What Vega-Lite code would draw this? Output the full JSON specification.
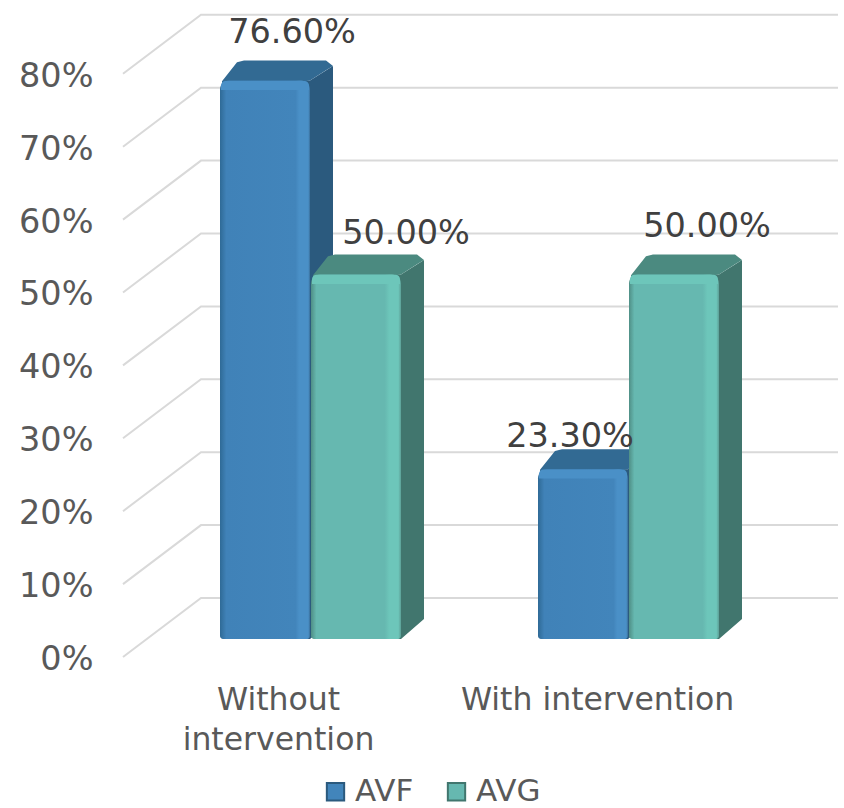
{
"$schema":"https://vega.github.io/schema/vega-lite/v6.json",
"width":717,"height":657,
"autosize":{"type":"none"},
"padding":{"left":123,"top":0,"right":4,"bottom":151},
"background":"white",
"config":{"view":{"stroke":null},"font":"DejaVu Sans"},
"data":{"values":[
{"group":"Without intervention","series":"AVF","value":76.6},
{"group":"Without intervention","series":"AVG","value":50.0},
{"group":"With intervention","series":"AVF","value":23.3},
{"group":"With intervention","series":"AVG","value":50.0}
]},
"transform":[
{"calculate":"(datum.group=='Without intervention'?97:415)+(datum.series=='AVF'?0:91)","as":"left"},
{"calculate":"datum.left+90","as":"right"},
{"calculate":"2.47","as":"base"},
{"calculate":"datum.value+datum.base","as":"top"}
],
"encoding":{
"x":{"field":"px","type":"quantitative","scale":{"domain":[0,717],"nice":false,"zero":false},
"axis":{"values":[155,474],"title":null,"grid":false,"domain":false,"ticks":false,"labelOverlap":false,"labelFlush":false,"labelLimit":500,"labelPadding":27,"labelFontSize":31.5,"labelColor":"#595959","labelFont":"DejaVu Sans","labelLineHeight":40,"labelBaseline":"top","labelExpr":"datum.value<300?['Without','intervention']:'With intervention'"}},
"y":{"field":"py","type":"quantitative","scale":{"domain":[0,90.12],"nice":false,"zero":false},
"axis":{"values":[0,10,20,30,40,50,60,70,80],"title":null,"grid":false,"domain":false,"ticks":false,"labelPadding":30,"labelOffset":2.5,"labelFontSize":33.5,"labelColor":"#595959","labelFont":"DejaVu Sans","labelExpr":"datum.value+'%'"}}
},
"layer":[
{"data":{"values":[{"level":0},{"level":10},{"level":20},{"level":30},{"level":40},{"level":50},{"level":60},{"level":70},{"level":80}]},
 "transform":[{"calculate":"[0,78,715]","as":"px"},{"flatten":["px"]},{"calculate":"datum.level+(datum.px>0?8.09:0)","as":"py"}],
 "mark":{"type":"line","color":"#D9D9D9","strokeWidth":2},
 "encoding":{"detail":{"field":"level"}}},

{"transform":[{"calculate":"datum.left+10","as":"px"},{"calculate":"datum.top-3","as":"py"},{"calculate":"datum.right-10","as":"r"}],
 "mark":{"type":"rect","strokeWidth":0},
 "encoding":{"x2":{"field":"r"},"y2":{"field":"base"},
  "color":{"field":"series","type":"nominal","scale":{"domain":["AVF","AVG"],"range":["#4285BB","#66B8B0"]},
   "legend":{"orient":"none","legendX":197,"legendY":776,"direction":"horizontal","columns":2,"title":null,"symbolType":"square","symbolSize":300,"symbolStrokeWidth":2,"labelFontSize":31,"labelColor":"#595959","labelFont":"DejaVu Sans","columnPadding":27,"labelOffset":4}},
  "stroke":{"field":"series","type":"nominal","scale":{"domain":["AVF","AVG"],"range":["#2B5A7E","#41766E"]},"legend":null}}},

{"transform":[{"filter":"datum.series=='AVF'"},{"calculate":"[0,1,2]","as":"t"},{"flatten":["t"]},{"calculate":"[datum.right-9,datum.right,datum.right+23][datum.t]","as":"px"},{"calculate":"[datum.top,datum.top,datum.top+2.0][datum.t]","as":"py"},{"calculate":"[datum.base,datum.base,datum.base+2.74][datum.t]","as":"py2"}],
 "mark":{"type":"area","color":"#2B5A7E","interpolate":"linear"},
 "encoding":{"y2":{"field":"py2"},"detail":{"field":"group"}}},
{"transform":[{"filter":"datum.series=='AVF'"},{"calculate":"[0,1,2,3,4,5]","as":"t"},{"flatten":["t"]},{"calculate":"[datum.left+2,datum.left+17,datum.left+24,datum.right,datum.right+16,datum.right+23][datum.t]","as":"px"},{"calculate":"[datum.top-0.1,datum.top+2.5,datum.top+2.74,datum.top+2.74,datum.top+2.74,datum.top+2.0][datum.t]","as":"py"},{"calculate":"[datum.top-1.3,datum.top-1.3,datum.top-1.3,datum.top,datum.top+1.4,datum.top+2.0][datum.t]","as":"py2"}],
 "mark":{"type":"area","color":"#326A93","interpolate":"linear"},
 "encoding":{"y2":{"field":"py2"},"detail":{"field":"group"}}},
{"transform":[{"filter":"datum.series=='AVF'"},{"calculate":"datum.left","as":"px"},{"calculate":"datum.top","as":"py"}],
 "mark":{"type":"rect","cornerRadiusTopLeft":9,"cornerRadiusTopRight":9,"cornerRadiusBottomLeft":3,"cornerRadiusBottomRight":3,
  "color":{"gradient":"linear","x1":0,"y1":0,"x2":1,"y2":0,"stops":[{"offset":0,"color":"#2F6A96"},{"offset":0.07,"color":"#4082B8"},{"offset":0.84,"color":"#4285BB"},{"offset":0.88,"color":"#4A90C7"},{"offset":0.98,"color":"#4A90C7"},{"offset":1,"color":"#3A6F9B"}]}},
 "encoding":{"x2":{"field":"right"},"y2":{"field":"base"}}},

{"transform":[{"filter":"datum.series=='AVG'"},{"calculate":"[0,1,2]","as":"t"},{"flatten":["t"]},{"calculate":"[datum.right-9,datum.right,datum.right+23][datum.t]","as":"px"},{"calculate":"[datum.top,datum.top,datum.top+2.0][datum.t]","as":"py"},{"calculate":"[datum.base,datum.base,datum.base+2.74][datum.t]","as":"py2"}],
 "mark":{"type":"area","color":"#41766E","interpolate":"linear"},
 "encoding":{"y2":{"field":"py2"},"detail":{"field":"group"}}},
{"transform":[{"filter":"datum.series=='AVG'"},{"calculate":"[0,1,2,3,4,5]","as":"t"},{"flatten":["t"]},{"calculate":"[datum.left+2,datum.left+17,datum.left+24,datum.right,datum.right+16,datum.right+23][datum.t]","as":"px"},{"calculate":"[datum.top-0.1,datum.top+2.5,datum.top+2.74,datum.top+2.74,datum.top+2.74,datum.top+2.0][datum.t]","as":"py"},{"calculate":"[datum.top-1.3,datum.top-1.3,datum.top-1.3,datum.top,datum.top+1.4,datum.top+2.0][datum.t]","as":"py2"}],
 "mark":{"type":"area","color":"#4B8A80","interpolate":"linear"},
 "encoding":{"y2":{"field":"py2"},"detail":{"field":"group"}}},
{"transform":[{"filter":"datum.series=='AVG'"},{"calculate":"datum.left","as":"px"},{"calculate":"datum.top","as":"py"}],
 "mark":{"type":"rect","cornerRadiusTopLeft":9,"cornerRadiusTopRight":9,"cornerRadiusBottomLeft":3,"cornerRadiusBottomRight":3,
  "color":{"gradient":"linear","x1":0,"y1":0,"x2":1,"y2":0,"stops":[{"offset":0,"color":"#4F8F86"},{"offset":0.06,"color":"#66B8B0"},{"offset":0.82,"color":"#66B8B0"},{"offset":0.87,"color":"#6DC6BA"},{"offset":0.97,"color":"#6DC6BA"},{"offset":1,"color":"#5C9F96"}]}},
 "encoding":{"x2":{"field":"right"},"y2":{"field":"base"}}},

{"transform":[{"filter":"datum.series=='AVF'"},{"calculate":"datum.left+1","as":"px"},{"calculate":"datum.top-0.05","as":"py"},{"calculate":"datum.right-1","as":"r"},{"calculate":"datum.top-1.3","as":"b"}],
 "mark":{"type":"rect","color":"#4A90C7","cornerRadiusTopLeft":8,"cornerRadiusTopRight":8},
 "encoding":{"x2":{"field":"r"},"y2":{"field":"b"}}},
{"transform":[{"filter":"datum.series=='AVG'"},{"calculate":"datum.left+1","as":"px"},{"calculate":"datum.top-0.05","as":"py"},{"calculate":"datum.right-1","as":"r"},{"calculate":"datum.top-1.3","as":"b"}],
 "mark":{"type":"rect","color":"#6DC6BA","cornerRadiusTopLeft":8,"cornerRadiusTopRight":8},
 "encoding":{"x2":{"field":"r"},"y2":{"field":"b"}}},

{"transform":[
 {"calculate":"datum.group+datum.series","as":"key"},
 {"calculate":"{'Without interventionAVF':27,'Without interventionAVG':50,'With interventionAVF':-13,'With interventionAVG':33}[datum.key]","as":"sx"},
 {"calculate":"{'Without interventionAVF':5.2,'Without interventionAVG':4.2,'With interventionAVF':3.0,'With interventionAVG':5.2}[datum.key]","as":"sy"},
 {"calculate":"datum.left+45+datum.sx","as":"px"},
 {"calculate":"datum.top+datum.sy","as":"py"},
 {"calculate":"format(datum.value,'.2f')+'%'","as":"label"}],
 "mark":{"type":"text","fontSize":33.5,"font":"DejaVu Sans","color":"#404040","baseline":"alphabetic","align":"center"},
 "encoding":{"text":{"field":"label"}}}
]
}
